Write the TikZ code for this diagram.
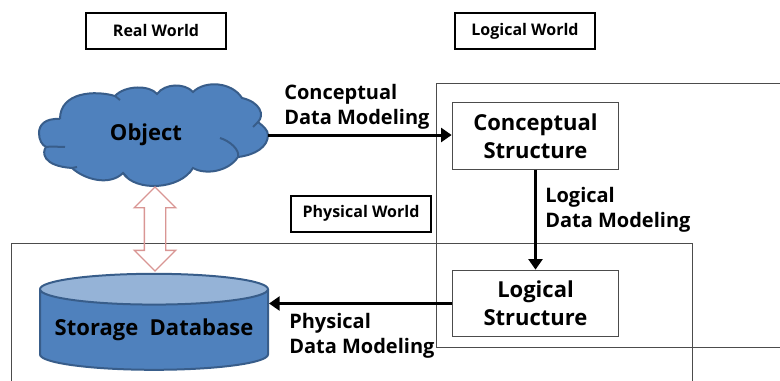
\documentclass[tikz,border=0pt]{standalone}
\usepackage{fontspec}
\setmainfont{Open Sans}
\usetikzlibrary{shapes.geometric,shapes.arrows,arrows.meta}
\definecolor{bluefill}{HTML}{4F81BD}
\definecolor{blueline}{HTML}{385D8A}
\definecolor{bluetop}{HTML}{95B3D7}
\definecolor{redline}{HTML}{D99694}
\tikzset{
  worldbox/.style={draw=black,line width=1.5pt,minimum width=105pt,minimum height=27pt,inner sep=0pt,font=\fontsize{12}{14}\selectfont\bfseries},
  structbox/.style={draw=black!70,line width=.75pt,fill=white,minimum width=125pt,minimum height=50pt,inner sep=0pt,align=center,font=\fontsize{16.5}{21}\selectfont\bfseries},
  frameline/.style={draw=black!70,line width=.75pt},
  flowarrow/.style={-{Triangle[length=8pt,width=10.5pt]},line width=2.25pt},
  steplabel/.style={anchor=west,align=left,inner sep=0pt,font=\fontsize{15}{19}\selectfont\bfseries},
}
\begin{document}
\begin{tikzpicture}[x=.75pt,y=-.75pt]
  \useasboundingbox (0,0) rectangle (780,381);

  % frames
  \draw[frameline] (780,84)--(436,84)--(436,347)--(780,347);
  \draw[frameline] (11,381)--(11,243)--(692,243)--(692,381);

  \node[worldbox] (real) at (156,31) {Real World};
  \node[worldbox] (logicalw) at (525,31) {Logical World};
  \node[worldbox] (physicalw) at (361,213.5) {Physical World};

  % cloud
  \filldraw[fill=bluefill,draw=blueline,line width=1.5pt]
    (60,119) .. controls (45,118) and (39,125) .. (39,133)
    .. controls (39,140) and (42,145) .. (46,147)
    .. controls (42,152) and (42,166) .. (72,168)
    .. controls (85,180) and (110,186) .. (123,173)
    .. controls (135,192) and (180,190) .. (193,168)
    .. controls (205,175) and (228,172) .. (238,157)
    .. controls (255,155) and (268,147) .. (268,135)
    .. controls (268,130) and (263,126) .. (258,122)
    .. controls (265,115) and (260,102) .. (242,98)
    .. controls (232,82) and (205,80) .. (193,92)
    .. controls (185,83) and (165,83) .. (157,94)
    .. controls (150,85) and (125,85) .. (115,96)
    .. controls (95,90) and (60,92) .. (60,119);
  \draw[blueline,line width=1.5pt] (46,147) .. controls (52,146) and (58,147) .. (65,147);
  \draw[blueline,line width=1.5pt] (72,168) -- (77,167);
  \draw[blueline,line width=1.5pt] (123,173) -- (127,177);
  \draw[blueline,line width=1.5pt] (220,138) .. controls (230,141) and (240,150) .. (238,157);
  \draw[blueline,line width=1.5pt] (258,122) -- (253,127);
  \draw[blueline,line width=1.5pt] (115,96) -- (120,100);
  \node[minimum width=183pt,minimum height=77pt,inner sep=0pt,font=\fontsize{16.5}{20}\selectfont\bfseries] (object) at (146,135) {Object};

  % database
  \node[cylinder,shape border rotate=90,aspect=.155,draw=blueline,line width=1.5pt,
    cylinder uses custom fill,cylinder body fill=bluefill,cylinder end fill=bluetop,
    minimum width=171pt,minimum height=72pt,inner sep=0pt,
    font=\fontsize{16.5}{20}\selectfont\bfseries] (storage) at (154,330) {Storage\ \ Database};

  \node[double arrow,draw=redline,line width=1pt,rotate=90,minimum height=63pt,
    double arrow head extend=7.5pt,double arrow tip angle=90,inner ysep=7.5pt,inner xsep=0pt] (link) at (155,229) {};

  \node[structbox] (conceptual) at (535.5,136) {Conceptual\\Structure};
  \node[structbox] (logical) at (535.5,303.5) {Logical\\Structure};

  \draw[flowarrow] (object.east)--(conceptual.west|-object.east);
  \draw[flowarrow] (conceptual)--(logical);
  \draw[flowarrow] (logical)--(storage.east|-logical);

  \node[steplabel] (conceptualm) at (284,107) {Conceptual\\Data Modeling};
  \node[steplabel] (logicalm) at (545,210) {Logical\\Data Modeling};
  \node[steplabel] (physicalm) at (289,336) {Physical\\Data Modeling};
\end{tikzpicture}
\end{document}
